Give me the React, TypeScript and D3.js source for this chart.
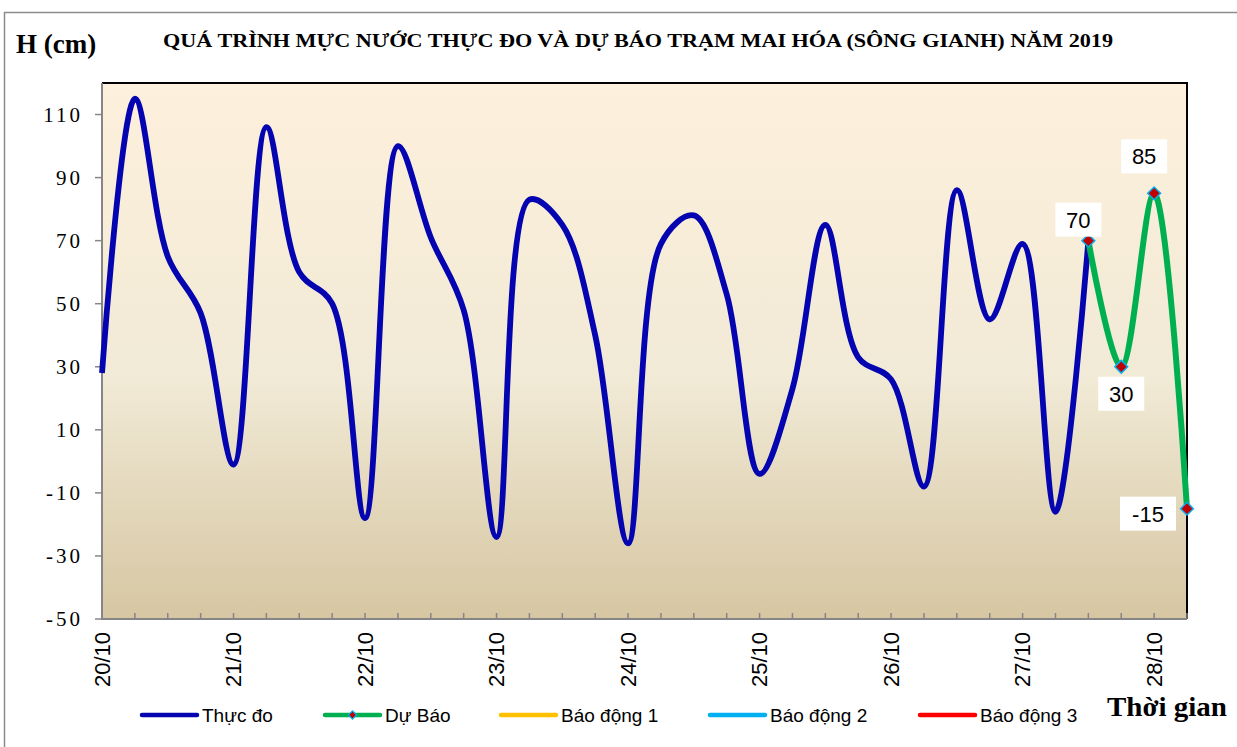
import React from 'react';
import * as d3 from 'd3';

// ---------- data ----------
const dayLabels = ['20/10', '21/10', '22/10', '23/10', '24/10', '25/10', '26/10', '27/10', '28/10'];
// observed water level, every 6 hours from 20/10 00h
const observed = [
  28, 115, 65, 47, -1, 106, 60, 50, -18, 100, 71, 48, -24, 83, 75, 40,
  -26, 69, 78, 53, -4, 23, 75, 33, 26, -8, 86, 45, 69, -16, 70,
];
// forecast, continues from last observed point
const forecast = [70, 30, 85, -15];
const forecastLabels = ['70', '30', '85', '-15'];
const yTicks = [-50, -30, -10, 10, 30, 50, 70, 90, 110];
const legendNames = ['Thực đo', 'Dự Báo', 'Báo động 1', 'Báo động 2', 'Báo động 3'];
const legendColors = ['#0404B0', '#00B050', '#FFC000', '#00B0F0', '#FF0000'];

const W = 1237;
const H = 747;
const M = { left: 102, right: 1187, top: 83, bottom: 619 };
const stepsPerDay = 4;

export default function App() {
  const total = observed.length - 1 + forecast.length - 1; // 33 steps
  const x = d3.scaleLinear().domain([0, total]).range([M.left, M.right]);
  const y = d3.scaleLinear().domain([-50, 120]).range([M.bottom, M.top]);

  const obsPts: [number, number][] = observed.map((v, i) => [i, v]);
  const fStart = observed.length - 1;
  const fcPts: [number, number][] = forecast.map((v, i) => [fStart + i, v]);

  const line = d3
    .line<[number, number]>()
    .x((d) => x(d[0]))
    .y((d) => y(d[1]))
    .curve(d3.curveCatmullRom.alpha(0.5));

  const diamond = d3.symbol(d3.symbolSquare, 82)() as string;
  const diamondSmall = d3.symbol(d3.symbolSquare, 34)() as string;

  const minorTicks = d3.range(0, total + 1);
  const dayTicks = dayLabels.map((_, i) => i * stepsPerDay);

  // label placement for forecast values: dx, dy of box centre relative to point
  const labelOffsets: [number, number][] = [
    [-10, -21],
    [0, 27],
    [-10, -37],
    [-39, 5],
  ];
  const labelW = [46, 46, 46, 56];

  const legendX = [142, 325, 501, 710, 920];
  const legendLen = 55;
  const legendY = 715;

  return (
    <svg
      width={W}
      height={H}
      style={{ position: 'absolute', left: 0, top: 0, background: '#fff' }}
    >
      <defs>
        <linearGradient id="bg" x1="0" y1="0" x2="0" y2="1">
          <stop offset="0" stopColor="#FDF0DC" />
          <stop offset="0.55" stopColor="#F1EAD6" />
          <stop offset="1" stopColor="#D6C6A2" />
        </linearGradient>
      </defs>
      {/* outer border */}
      <rect x={4.5} y={12.5} width={W + 10} height={H + 10} fill="#fff" stroke="#8c8c8c" strokeWidth={1.5} />

      {/* title */}
      <text
        x={163}
        y={47}
        fontFamily="'Liberation Serif', 'Times New Roman', serif"
        fontWeight="bold"
        fontSize={19.5}
        textLength={950}
        lengthAdjust="spacingAndGlyphs"
        fill="#000"
      >
        QUÁ TRÌNH MỰC NƯỚC THỰC ĐO VÀ DỰ BÁO TRẠM MAI HÓA (SÔNG GIANH) NĂM 2019
      </text>
      <text
        x={16}
        y={53}
        fontFamily="'Liberation Serif', 'Times New Roman', serif"
        fontWeight="bold"
        fontSize={27}
        fill="#000"
      >
        H (cm)
      </text>

      {/* plot area */}
      <rect x={M.left} y={M.top} width={M.right - M.left} height={M.bottom - M.top} fill="url(#bg)" />
      <line x1={M.left} x2={M.right + 1} y1={M.top} y2={M.top} stroke="#000" strokeWidth={2} />
      <line x1={M.right} x2={M.right} y1={M.top} y2={M.bottom} stroke="#000" strokeWidth={2} />

      {/* y axis */}
      <line x1={M.left} x2={M.left} y1={M.top} y2={M.bottom + 1} stroke="#868686" strokeWidth={2} />
      {yTicks.map((t) => (
        <g key={t}>
          <line x1={M.left - 7} x2={M.left} y1={y(t)} y2={y(t)} stroke="#868686" strokeWidth={1.5} />
          <text
            x={83}
            y={y(t) + 7}
            textAnchor="end"
            fontFamily="'Liberation Serif', 'Times New Roman', serif"
            fontSize={21}
            letterSpacing={3}
            fill="#000"
          >
            {t}
          </text>
        </g>
      ))}

      {/* x axis */}
      <line x1={M.left} x2={M.right} y1={M.bottom} y2={M.bottom} stroke="#868686" strokeWidth={2} />
      {minorTicks.map((i) => (
        <line key={i} x1={x(i)} x2={x(i)} y1={M.bottom - 6} y2={M.bottom} stroke="#868686" strokeWidth={1.5} />
      ))}
      {dayTicks.map((i, k) => (
        <text
          key={i}
          transform={`translate(${x(i)},${M.bottom + 13}) rotate(-90)`}
          textAnchor="end"
          dominantBaseline="central"
          fontFamily="'Liberation Sans', Arial, sans-serif"
          fontSize={22}
          fill="#000"
        >
          {dayLabels[k]}
        </text>
      ))}

      {/* series */}
      <path d={line(obsPts) || ''} fill="none" stroke={legendColors[0]} strokeWidth={5.8} strokeLinejoin="round" />
      <path d={line(fcPts) || ''} fill="none" stroke={legendColors[1]} strokeWidth={6} strokeLinejoin="round" />
      {fcPts.map((p, i) => (
        <path
          key={i}
          d={diamond}
          transform={`translate(${x(p[0])},${y(p[1])}) rotate(45)`}
          fill="#C00000"
          stroke="#00B0F0"
          strokeWidth={1.5}
        />
      ))}
      {fcPts.map((p, i) => {
        const cx = x(p[0]) + labelOffsets[i][0];
        const cy = y(p[1]) + labelOffsets[i][1];
        return (
          <g key={'l' + i}>
            <rect x={cx - labelW[i] / 2} y={cy - 17} width={labelW[i]} height={34} fill="#fff" />
            <text
              x={cx}
              y={cy + 8}
              textAnchor="middle"
              fontFamily="'Liberation Sans', Arial, sans-serif"
              fontSize={22}
              fill="#000"
            >
              {forecastLabels[i]}
            </text>
          </g>
        );
      })}

      {/* legend */}
      {legendNames.map((name, i) => (
        <g key={name}>
          <line
            x1={legendX[i]}
            x2={legendX[i] + legendLen}
            y1={legendY}
            y2={legendY}
            stroke={legendColors[i]}
            strokeWidth={4.5}
            strokeLinecap="round"
          />
          {i === 1 && (
            <path
              d={diamondSmall}
              transform={`translate(${legendX[i] + legendLen / 2},${legendY}) rotate(45)`}
              fill="#C00000"
              stroke="#00B0F0"
              strokeWidth={1.2}
            />
          )}
          <text
            x={legendX[i] + legendLen + 5}
            y={legendY + 7}
            fontFamily="'Liberation Sans', Arial, sans-serif"
            fontSize={19}
            fill="#000"
          >
            {name}
          </text>
        </g>
      ))}
      <text
        x={1107}
        y={716}
        fontFamily="'Liberation Serif', 'Times New Roman', serif"
        fontWeight="bold"
        fontSize={27}
        textLength={120}
        lengthAdjust="spacingAndGlyphs"
        fill="#000"
      >
        Thời gian
      </text>
    </svg>
  );
}
